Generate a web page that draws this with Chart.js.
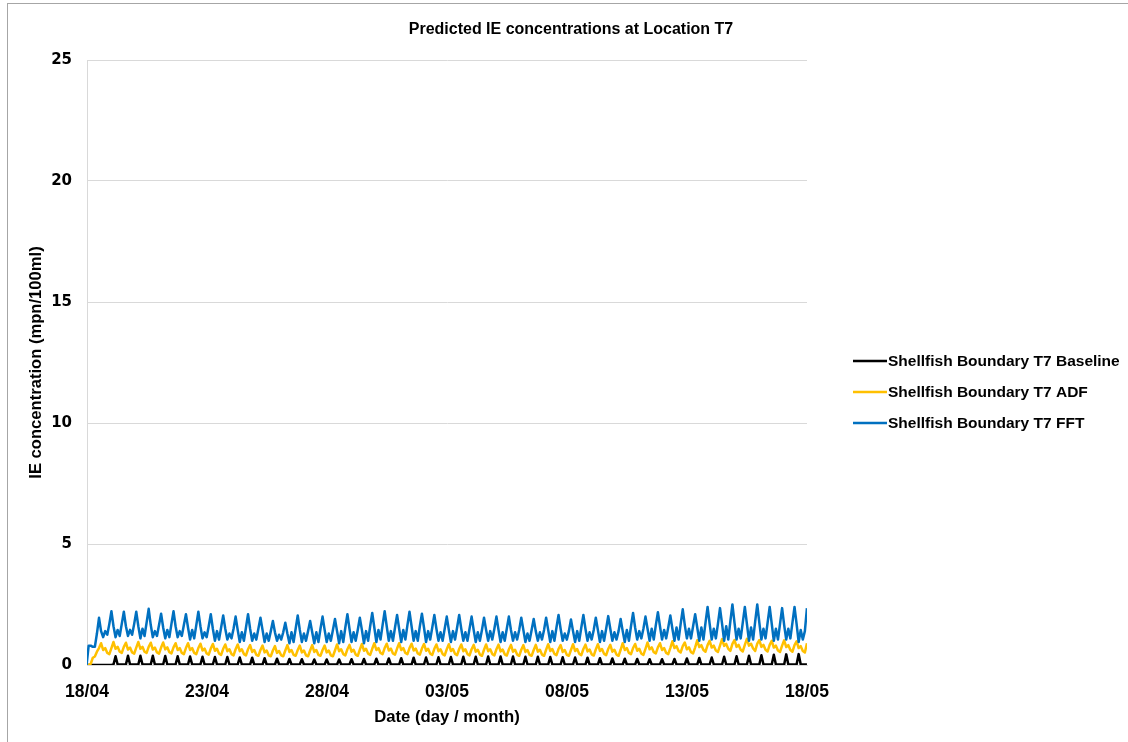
<!DOCTYPE html>
<html>
<head>
<meta charset="utf-8">
<script src="https://cdn.jsdelivr.net/npm/chart.js@4.4.1/dist/chart.umd.min.js"></script>
<style>
  html, body { margin: 0; padding: 0; background: #ffffff; overflow: hidden; }
  #frame { position: absolute; left: 7px; top: 3px; border-left: 1px solid #a6a6a6; border-top: 1px solid #a6a6a6; width: 1126px; height: 740px; }
  #c { display: block; }
</style>
</head>
<body>
<div id="frame"><canvas id="c" width="1126" height="740"></canvas></div>
<script>
// ---------------- DATA ----------------
const chartTitle = 'Predicted IE concentrations at Location T7';
const xAxisTitle = 'Date (day / month)';
const yAxisTitle = 'IE concentration (mpn/100ml)';
const seriesNames = ['Shellfish Boundary T7 Baseline', 'Shellfish Boundary T7 ADF', 'Shellfish Boundary T7 FFT'];
const tickLabels = ['18/04', '23/04', '28/04', '03/05', '08/05', '13/05', '18/05'];
const yTicks = [0, 5, 10, 15, 20, 25];
// model output sampled every 2.07 h (a sixth of a 12.42 h tide), from 18/04 00:00
const sampleStartDay = -0.0175;
const sampleStepDays = 0.08625;

const baselineValues = [
0,
0,0,0,0,0,0,
0,0,0,0,0,0,
0.02,0.36,0.02,0.02,0.02,0.02,
0.02,0.38,0.02,0.02,0.02,0.02,
0.02,0.38,0.02,0.02,0.02,0.02,
0.02,0.38,0.02,0.02,0.02,0.02,
0.02,0.37,0.02,0.02,0.02,0.02,
0.02,0.36,0.02,0.02,0.02,0.02,
0.02,0.35,0.02,0.02,0.02,0.02,
0.02,0.34,0.02,0.02,0.02,0.02,
0.02,0.33,0.02,0.02,0.02,0.02,
0.02,0.33,0.02,0.02,0.02,0.02,
0.02,0.31,0.02,0.02,0.02,0.02,
0.02,0.30,0.02,0.02,0.02,0.02,
0.02,0.28,0.02,0.02,0.02,0.02,
0.02,0.26,0.02,0.02,0.02,0.02,
0.02,0.25,0.02,0.02,0.02,0.02,
0.02,0.24,0.02,0.02,0.02,0.02,
0.02,0.23,0.02,0.02,0.02,0.02,
0.02,0.23,0.02,0.02,0.02,0.02,
0.02,0.23,0.02,0.02,0.02,0.02,
0.02,0.24,0.02,0.02,0.02,0.02,
0.02,0.25,0.02,0.02,0.02,0.02,
0.02,0.26,0.02,0.02,0.02,0.02,
0.02,0.27,0.02,0.02,0.02,0.02,
0.02,0.28,0.02,0.02,0.02,0.02,
0.02,0.30,0.02,0.02,0.02,0.02,
0.02,0.31,0.02,0.02,0.02,0.02,
0.02,0.32,0.02,0.02,0.02,0.02,
0.02,0.33,0.02,0.02,0.02,0.02,
0.02,0.34,0.02,0.02,0.02,0.02,
0.02,0.34,0.02,0.02,0.02,0.02,
0.02,0.35,0.02,0.02,0.02,0.02,
0.02,0.35,0.02,0.02,0.02,0.02,
0.02,0.35,0.02,0.02,0.02,0.02,
0.02,0.34,0.02,0.02,0.02,0.02,
0.02,0.34,0.02,0.02,0.02,0.02,
0.02,0.33,0.02,0.02,0.02,0.02,
0.02,0.32,0.02,0.02,0.02,0.02,
0.02,0.31,0.02,0.02,0.02,0.02,
0.02,0.30,0.02,0.02,0.02,0.02,
0.02,0.28,0.02,0.02,0.02,0.02,
0.02,0.27,0.02,0.02,0.02,0.02,
0.02,0.26,0.02,0.02,0.02,0.02,
0.02,0.25,0.02,0.02,0.02,0.02,
0.02,0.24,0.02,0.02,0.02,0.02,
0.02,0.24,0.02,0.02,0.02,0.02,
0.02,0.25,0.02,0.02,0.02,0.02,
0.02,0.27,0.02,0.02,0.02,0.02,
0.02,0.29,0.02,0.02,0.02,0.02,
0.02,0.31,0.02,0.02,0.02,0.02,
0.02,0.34,0.02,0.02,0.02,0.02,
0.02,0.36,0.02,0.02,0.02,0.02,
0.02,0.38,0.02,0.02,0.02,0.02,
0.02,0.40,0.02,0.02,0.02,0.02,
0.02,0.42,0.02,0.02,0.02,0.02,
0.02,0.44,0.02,0.02,0.02,0.02,
0.02,0.45,0.02,0.02,0.02,0.02
];

const adfValues = [
0,
0.00,0.05,0.30,0.35,0.55,0.70,
0.90,0.62,0.70,0.50,0.45,0.70,
0.95,0.67,0.75,0.55,0.50,0.75,
0.92,0.64,0.72,0.52,0.47,0.72,
0.95,0.67,0.75,0.55,0.50,0.75,
0.92,0.64,0.72,0.52,0.47,0.72,
0.93,0.65,0.73,0.53,0.48,0.73,
0.90,0.62,0.70,0.50,0.45,0.70,
0.90,0.62,0.70,0.50,0.45,0.70,
0.88,0.60,0.68,0.48,0.43,0.68,
0.87,0.59,0.67,0.47,0.42,0.67,
0.85,0.57,0.65,0.45,0.40,0.65,
0.85,0.57,0.65,0.45,0.40,0.65,
0.82,0.54,0.62,0.42,0.38,0.62,
0.80,0.52,0.60,0.40,0.36,0.60,
0.78,0.50,0.58,0.40,0.36,0.60,
0.82,0.54,0.62,0.42,0.38,0.62,
0.80,0.52,0.60,0.40,0.36,0.60,
0.82,0.54,0.62,0.42,0.38,0.62,
0.80,0.52,0.60,0.40,0.36,0.60,
0.85,0.57,0.65,0.45,0.40,0.65,
0.83,0.55,0.63,0.43,0.38,0.63,
0.87,0.59,0.67,0.47,0.42,0.67,
0.90,0.62,0.70,0.50,0.45,0.70,
0.88,0.60,0.68,0.48,0.43,0.68,
0.90,0.62,0.70,0.50,0.45,0.70,
0.88,0.60,0.68,0.48,0.43,0.68,
0.87,0.59,0.67,0.47,0.42,0.67,
0.85,0.57,0.65,0.45,0.40,0.65,
0.86,0.58,0.66,0.46,0.41,0.66,
0.85,0.57,0.65,0.45,0.40,0.65,
0.83,0.55,0.63,0.43,0.38,0.63,
0.85,0.57,0.65,0.45,0.40,0.65,
0.84,0.56,0.64,0.44,0.39,0.64,
0.83,0.55,0.63,0.43,0.38,0.63,
0.82,0.54,0.62,0.42,0.38,0.62,
0.83,0.55,0.63,0.43,0.38,0.63,
0.86,0.58,0.66,0.46,0.41,0.66,
0.82,0.54,0.62,0.42,0.38,0.62,
0.86,0.58,0.66,0.46,0.41,0.66,
0.84,0.56,0.64,0.44,0.39,0.64,
0.86,0.58,0.66,0.46,0.41,0.66,
0.83,0.55,0.63,0.43,0.38,0.63,
0.90,0.62,0.70,0.50,0.45,0.70,
0.87,0.59,0.67,0.47,0.42,0.67,
0.93,0.65,0.73,0.53,0.48,0.73,
0.90,0.62,0.70,0.50,0.45,0.70,
0.98,0.70,0.78,0.58,0.52,0.78,
0.93,0.65,0.73,0.53,0.48,0.73,
1.02,0.74,0.82,0.62,0.55,0.82,
1.00,0.72,0.80,0.60,0.54,0.80,
1.07,0.79,0.87,0.67,0.58,0.87,
1.03,0.75,0.83,0.63,0.56,0.83,
1.08,0.80,0.88,0.68,0.58,0.88,
1.03,0.75,0.83,0.63,0.56,0.83,
1.00,0.72,0.80,0.60,0.54,0.80,
1.02,0.74,0.82,0.62,0.55,0.82,
0.98,0.70,0.78,0.58,0.52,0.90
];

const fftValues = [
0,
0.80,0.80,0.75,0.75,1.30,1.95,
1.40,1.15,1.40,1.25,1.70,2.22,
1.60,1.15,1.45,1.20,1.70,2.20,
1.60,1.20,1.45,1.25,1.70,2.20,
1.60,1.10,1.50,1.20,1.75,2.32,
1.65,1.15,1.40,1.20,1.65,2.12,
1.55,1.10,1.45,1.15,1.70,2.22,
1.60,1.15,1.40,1.20,1.65,2.10,
1.55,1.05,1.45,1.10,1.65,2.20,
1.60,1.10,1.35,1.15,1.60,2.10,
1.50,1.00,1.40,1.05,1.55,2.05,
1.50,1.05,1.30,1.10,1.50,2.00,
1.45,0.95,1.35,1.00,1.55,2.10,
1.50,1.00,1.30,1.05,1.50,1.95,
1.45,0.95,1.30,1.00,1.40,1.82,
1.35,1.00,1.25,1.05,1.35,1.75,
1.30,0.90,1.35,0.95,1.50,2.05,
1.45,0.95,1.30,1.00,1.40,1.82,
1.35,0.90,1.35,0.95,1.50,2.00,
1.45,0.95,1.30,1.00,1.45,1.90,
1.40,0.90,1.40,0.95,1.55,2.10,
1.50,0.95,1.35,1.00,1.45,1.95,
1.45,0.90,1.40,1.00,1.60,2.15,
1.55,0.95,1.45,1.05,1.65,2.22,
1.60,1.00,1.40,1.00,1.55,2.07,
1.50,0.95,1.45,1.05,1.65,2.20,
1.60,1.00,1.40,1.00,1.60,2.12,
1.55,0.95,1.40,1.05,1.55,2.07,
1.50,1.00,1.35,1.00,1.50,2.00,
1.45,0.95,1.40,1.05,1.55,2.07,
1.50,1.00,1.35,1.00,1.50,2.00,
1.45,0.95,1.35,1.00,1.45,1.95,
1.45,1.00,1.40,1.05,1.50,2.00,
1.45,0.95,1.35,1.00,1.50,2.00,
1.45,1.00,1.35,1.05,1.45,1.95,
1.45,0.95,1.30,1.00,1.45,1.90,
1.40,1.00,1.35,1.05,1.45,1.95,
1.45,0.95,1.40,1.00,1.55,2.07,
1.50,1.00,1.30,1.05,1.40,1.88,
1.40,0.95,1.40,1.00,1.55,2.07,
1.50,1.00,1.35,1.05,1.45,1.95,
1.45,0.95,1.40,1.00,1.50,2.02,
1.50,1.00,1.35,1.05,1.40,1.90,
1.40,0.95,1.45,1.00,1.60,2.15,
1.55,1.05,1.40,1.10,1.50,2.00,
1.50,1.00,1.50,1.05,1.65,2.18,
1.60,1.05,1.45,1.10,1.55,2.05,
1.50,1.00,1.55,1.05,1.70,2.30,
1.65,1.10,1.50,1.10,1.60,2.10,
1.55,1.00,1.55,1.05,1.75,2.40,
1.70,1.05,1.50,1.10,1.70,2.35,
1.70,1.00,1.60,1.05,1.80,2.50,
1.75,1.05,1.50,1.10,1.75,2.40,
1.70,1.00,1.55,1.05,1.80,2.50,
1.75,1.05,1.50,1.10,1.75,2.40,
1.70,1.00,1.50,1.05,1.70,2.35,
1.65,1.05,1.50,1.10,1.75,2.40,
1.70,0.95,1.45,1.05,1.40,2.35
];

const seriesColors = ['#000000', '#FFC000', '#0070C0'];

// ---------------- CHART ----------------
function toPoints(values) {
  return values.map((v, i) => ({ x: sampleStartDay + i * sampleStepDays, y: v }));
}

const FONT = "'Liberation Sans', Arial, sans-serif";

const decorPlugin = {
  id: 'decor',
  afterDraw(chart) {
    const ctx = chart.ctx;
    ctx.save();
    // chart title (centred on the full chart frame)
    ctx.font = 'bold 16px ' + FONT;
    ctx.fillStyle = '#000000';
    ctx.textAlign = 'center';
    ctx.textBaseline = 'middle';
    ctx.fillText(chartTitle, 563, 26);
    // legend
    const rows = [357, 388, 419];
    ctx.font = 'bold 15.5px ' + FONT;
    ctx.textAlign = 'left';
    seriesNames.forEach((name, k) => {
      ctx.strokeStyle = seriesColors[k];
      ctx.lineWidth = 2.5;
      ctx.beginPath();
      ctx.moveTo(845, rows[k]);
      ctx.lineTo(879, rows[k]);
      ctx.stroke();
      ctx.fillStyle = '#000000';
      ctx.fillText(name, 880, rows[k] + 1);
    });
    ctx.restore();
  }
};

const datasets = seriesNames.map((name, k) => ({
  label: name,
  data: toPoints([baselineValues, adfValues, fftValues][k]),
  borderColor: seriesColors[k],
  backgroundColor: seriesColors[k],
  borderWidth: 2.5,
  pointRadius: 0,
  tension: 0,
  borderJoinStyle: 'round',
  fill: false,
  order: 2 - k
}));

new Chart(document.getElementById('c'), {
  type: 'line',
  data: { datasets },
  options: {
    responsive: false,
    animation: false,
    devicePixelRatio: 1,
    layout: { padding: { left: 0, right: 327, top: 56, bottom: 0 } },
    plugins: {
      legend: { display: false },
      tooltip: { enabled: false },
      title: { display: false }
    },
    scales: {
      x: {
        type: 'linear',
        min: 0,
        max: 30,
        afterFit(scale) { scale.height = 79; },
        afterBuildTicks(scale) { scale.ticks = tickLabels.map((_, i) => ({ value: i * 5 })); },
        ticks: {
          autoSkip: false,
          maxRotation: 0,
          padding: 17,
          color: '#000000',
          font: { family: FONT, size: 17.5, weight: 'bold' },
          callback: (v) => tickLabels[Math.round(v / 5)]
        },
        grid: { display: false, drawTicks: false },
        border: { display: true, color: '#d9d9d9', width: 1 },
        title: {
          display: true,
          text: xAxisTitle,
          color: '#000000',
          font: { family: FONT, size: 16.7, weight: 'bold', lineHeight: 1.2 },
          padding: { top: 0, bottom: 17 }
        }
      },
      y: {
        min: 0,
        max: 25,
        afterFit(scale) { scale.width = 79; },
        afterBuildTicks(scale) { scale.ticks = yTicks.map(v => ({ value: v })); },
        ticks: {
          padding: 15,
          color: '#000000',
          font: { family: "'DejaVu Sans', sans-serif", size: 15, weight: 'bold' }
        },
        grid: { color: '#d9d9d9', lineWidth: 1, drawTicks: false },
        border: { display: true, color: '#d9d9d9', width: 1 },
        title: {
          display: true,
          text: yAxisTitle,
          color: '#000000',
          font: { family: FONT, size: 16.6, weight: 'bold', lineHeight: 1.2 },
          padding: { top: 18, bottom: 0 }
        }
      }
    }
  },
  plugins: [decorPlugin]
});
</script>
</body>
</html>
